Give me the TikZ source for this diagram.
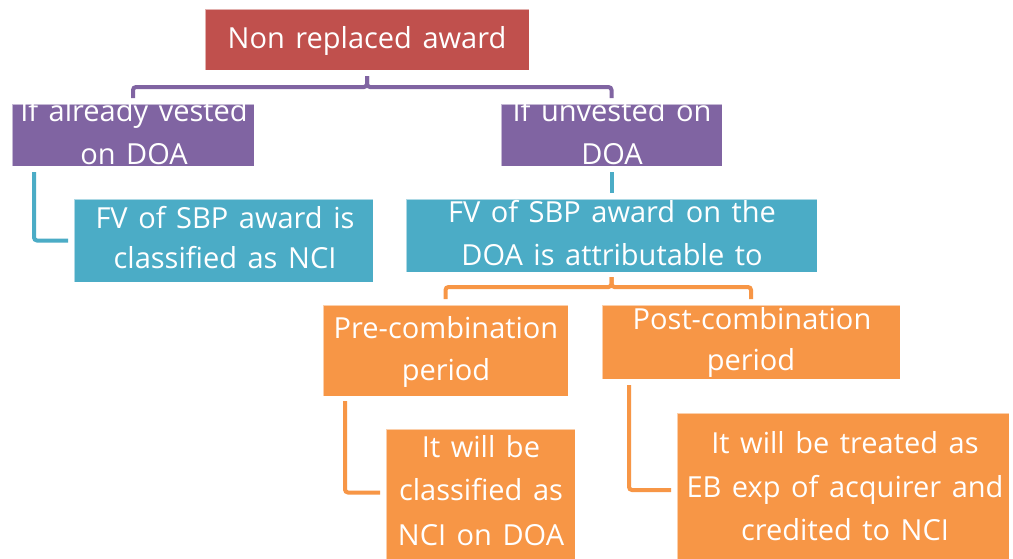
\documentclass[tikz,border=0pt]{standalone}
\usepackage{fontspec}
\newfontfamily\handfont{Open Sans}[WordSpace=1.4]
\definecolor{cred}{HTML}{C0504D}
\definecolor{cpur}{HTML}{8064A2}
\definecolor{cblu}{HTML}{4BACC6}
\definecolor{cora}{HTML}{F79646}
\tikzset{
  box/.style={rectangle, inner sep=0pt, outer sep=0pt, draw=white, draw opacity=0.55, line width=0.8pt},
  txt/.style={text=white, inner sep=0pt, anchor=base, font=\handfont\fontsize{29}{35}\selectfont},
  conn/.style={line width=4pt, rounded corners=3pt, shorten <=6pt, shorten >=6pt},
}
\begin{document}
\begin{tikzpicture}[x=1pt, y=-1pt]
\fill[white] (0,0) rectangle (1013,558);
\useasboundingbox (0,0) rectangle (1013,558);
% boxes
\node[box, fill=cred, minimum width=324pt, minimum height=61pt] (red) at (367,39.5) {};
\node[box, fill=cpur, minimum width=242pt, minimum height=62pt] (pl) at (133,135) {};
\node[box, fill=cpur, minimum width=221pt, minimum height=62pt] (pr) at (611.5,135) {};
\node[box, fill=cblu, minimum width=299pt, minimum height=83pt] (bl) at (223.5,240.5) {};
\node[box, fill=cblu, minimum width=411pt, minimum height=73pt] (br) at (611.5,235.5) {};
\node[box, fill=cora, minimum width=245pt, minimum height=91pt] (pre) at (445.5,350.5) {};
\node[box, fill=cora, minimum width=298pt, minimum height=74pt] (post) at (751,342) {};
\node[box, fill=cora, minimum width=189pt, minimum height=130pt] (fl) at (480.5,494) {};
\node[box, fill=cora, minimum width=332pt, minimum height=146pt] (fr) at (843,486) {};
% connectors
\draw[conn, cpur] (red.south) -- ++(0,17) -| (pl.north);
\draw[conn, cpur] (red.south) -- ++(0,17) -| (pr.north);
\draw[conn, cblu] ([xshift=22pt]pl.south west) |- (bl.west);
\draw[conn, cblu] (pr.south) -- (br.north);
\draw[conn, cora, shorten <=5pt] (br.south) -- ++(0,15) -| (pre.north);
\draw[conn, cora, shorten <=5pt] (br.south) -- ++(0,15) -| (post.north);
\draw[conn, cora, shorten <=5pt] ([xshift=22pt]pre.south west) |- ([yshift=1.5pt]fl.west);
\draw[conn, cora] ([xshift=27pt]post.south west) |- ([yshift=-4pt]fr.west);
% texts
\node[txt] (redt) at (367,48) {Non replaced award};
\node[txt] (plt1) at (134,121) {If already vested};
\node[txt] (plt2) at (134,164) {on DOA};
\node[txt] (prt1) at (612,121) {If unvested on};
\node[txt] (prt2) at (612,164) {DOA};
\node[txt] (blt1) at (225,228) {FV of SBP award is};
\node[txt] (blt2) at (225,268) {classified as NCI};
\node[txt] (brt1) at (612,222) {FV of SBP award on the};
\node[txt] (brt2) at (612,265) {DOA is attributable to};
\node[txt] (pret1) at (446,338) {Pre-combination};
\node[txt] (pret2) at (446,380) {period};
\node[txt] (postt1) at (752,329) {Post-combination};
\node[txt] (postt2) at (751,370) {period};
\node[txt] (flt1) at (481,457) {It will be};
\node[txt] (flt2) at (481,500) {classified as};
\node[txt] (flt3) at (481,545) {NCI on DOA};
\node[txt] (frt1) at (845,453) {It will be treated as};
\node[txt] (frt2) at (845,497) {EB exp of acquirer and};
\node[txt] (frt3) at (845,540) {credited to NCI};
\end{tikzpicture}
\end{document}
